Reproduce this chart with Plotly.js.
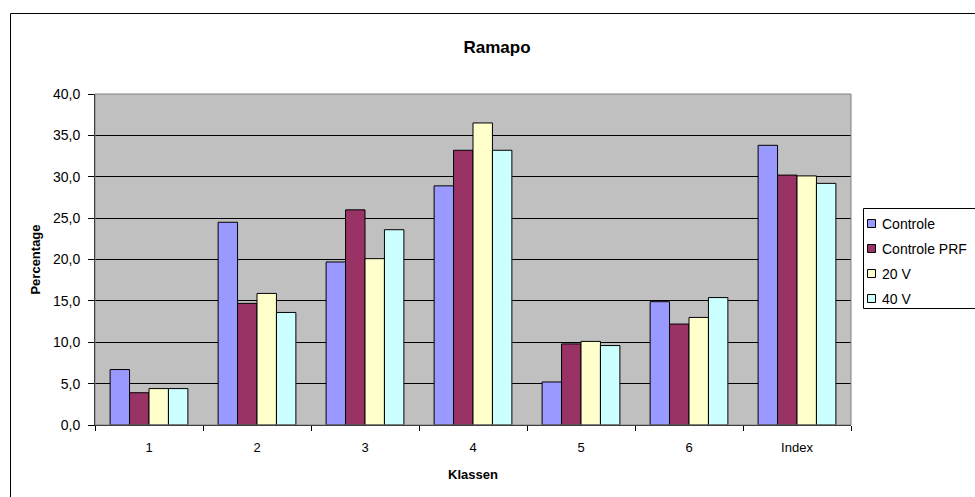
<!DOCTYPE html>
<html>
<head>
<meta charset="utf-8">
<script src="https://cdn.plot.ly/plotly-3.0.1.min.js"></script>
<style>
html,body{margin:0;padding:0;background:#fff;}
#chart{width:975px;height:497px;}
</style>
</head>
<body>
<div id="chart"></div>
<script>
const categories = ["1", "2", "3", "4", "5", "6", "Index"];
const seriesNames = ["Controle", "Controle PRF", "20 V", "40 V"];
const controle    = [6.7, 24.5, 19.7, 28.9, 5.2, 14.9, 33.8];
const controlePRF = [3.9, 14.7, 26.0, 33.2, 9.8, 12.2, 30.2];
const v20         = [4.4, 15.9, 20.1, 36.5, 10.1, 13.0, 30.1];
const v40         = [4.4, 13.6, 23.6, 33.2, 9.6, 15.4, 29.2];
const colors = ["#9999FF", "#993366", "#FFFFCC", "#CCFFFF"];
const values = [controle, controlePRF, v20, v40];

const traces = values.map((v, i) => ({
  type: "bar",
  name: seriesNames[i],
  x: categories,
  y: v,
  marker: {color: colors[i], line: {color: "#000000", width: 1}},
  hoverinfo: "x+y+name"
}));

const L = 95, R = 851, T = 94, B = 425, W = 975, H = 497;
const pw = R - L, ph = B - T;
const px = v => (v - L) / pw;
const py = v => (B - v) / ph;

// manual legend (box drawn like the reference, partly cut off at the right edge)
const legLeft = 863, legTop = 208, legBottom = 308, legRow0 = 223, legStep = 25;
const shapes = [
  {type: "rect", xref: "paper", yref: "paper", x0: 0, x1: 1, y0: 0, y1: 1,
   line: {color: "#808080", width: 1}, fillcolor: "rgba(0,0,0,0)", layer: "above"},
  {type: "rect", xref: "paper", yref: "paper", x0: px(10.5), x1: px(1000), y0: py(13.5), y1: py(520),
   line: {color: "#000000", width: 1}, fillcolor: "rgba(0,0,0,0)", layer: "above"},
  {type: "rect", xref: "paper", yref: "paper", x0: px(legLeft + 0.5), x1: px(1000), y0: py(legTop + 0.5), y1: py(legBottom + 0.5),
   line: {color: "#000000", width: 1}, fillcolor: "#ffffff", layer: "above"}
];
const annotations = [];
seriesNames.forEach((name, i) => {
  const cy = legRow0 + i * legStep;
  shapes.push({type: "rect", xref: "paper", yref: "paper",
    x0: px(867.5), x1: px(875.5), y0: py(cy - 3.5), y1: py(cy + 4.5),
    line: {color: "#000000", width: 1}, fillcolor: colors[i], layer: "above"});
  annotations.push({xref: "paper", yref: "paper", x: px(880), y: py(cy + 0.5),
    xanchor: "left", yanchor: "middle", showarrow: false, text: name,
    font: {size: 14, color: "#000"}});
});

const layout = {
  width: W, height: H,
  margin: {l: L, r: W - R, t: T, b: H - B, pad: 0},
  paper_bgcolor: "#ffffff",
  plot_bgcolor: "#C0C0C0",
  separators: ",.",
  font: {family: "Arial, 'Liberation Sans', sans-serif", size: 13, color: "#000"},
  title: {text: "<b>Ramapo</b>", font: {size: 17, color: "#000"}, x: 497 / W, xref: "container", xanchor: "center", y: 1 - 47 / H, yref: "container", yanchor: "middle"},
  barmode: "group",
  bargap: 0.28,
  bargroupgap: 0,
  showlegend: false,
  xaxis: {
    type: "category",
    tickson: "boundaries",
    ticks: "outside", ticklen: 5, tickcolor: "#000", tickwidth: 1,
    showline: true, linecolor: "#000", linewidth: 1,
    showgrid: false, zeroline: false,
    tickfont: {size: 13},
    ticklabelstandoff: 10,
    title: {text: "<b>Klassen</b>", font: {size: 13}, standoff: 16},
    fixedrange: true
  },
  yaxis: {
    range: [0, 40], dtick: 5, tick0: 0, tickformat: ".1f",
    ticks: "outside", ticklen: 6, tickcolor: "#000", tickwidth: 1,
    showline: true, linecolor: "#000", linewidth: 1,
    showgrid: true, gridcolor: "#000000", gridwidth: 1,
    zeroline: false,
    tickfont: {size: 14},
    ticklabelstandoff: 5,
    title: {text: "<b>Percentage</b>", font: {size: 13}, standoff: 9},
    fixedrange: true
  },
  shapes: shapes,
  annotations: annotations
};

Plotly.newPlot("chart", traces, layout, {displayModeBar: false, staticPlot: true});
</script>
</body>
</html>
